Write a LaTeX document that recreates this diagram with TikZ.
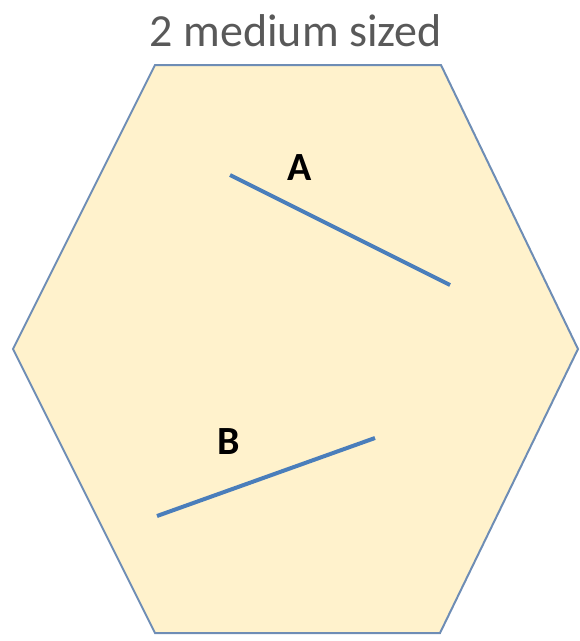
\documentclass[tikz,border=0pt]{standalone}
\usepackage{fontspec}
\setmainfont{Carlito}
\definecolor{hexfill}{HTML}{FFF2CC}
\definecolor{hexline}{HTML}{6E8DB5}
\definecolor{segblue}{HTML}{4A7EBB}
\definecolor{titlegray}{HTML}{595959}
\begin{document}
\begin{tikzpicture}[x=1pt,y=-1pt,
  hexside/.style={draw=hexline,line width=2pt,fill=hexfill,line join=miter},
  seg/.style={draw=segblue,line width=4pt},
  lbl/.style={font=\fontsize{40}{44}\selectfont\bfseries,text=black,inner sep=0pt},
  ttl/.style={font=\fontsize{46}{50}\selectfont,text=titlegray,inner sep=0pt}]
\useasboundingbox (0,0) rectangle (580,641);
\coordinate (v1) at (155,65);
\coordinate (v2) at (441,65);
\coordinate (v3) at (578,349);
\coordinate (v4) at (440,633);
\coordinate (v5) at (155,633);
\coordinate (v6) at (13,349);
\path[hexside] (v1) -- (v2) -- (v3) -- (v4) -- (v5) -- (v6) -- cycle;
\node[ttl] (title) at (296,31) {2 medium sized};
\coordinate (a1) at (230,175);
\coordinate (a2) at (450,285);
\coordinate (b1) at (157,516);
\coordinate (b2) at (375,438);
\draw[seg] (a1) -- (a2);
\draw[seg] (b1) -- (b2);
\node[lbl] (la) at (300,168) {A};
\node[lbl] (lb) at (229,442) {B};
\end{tikzpicture}
\end{document}
